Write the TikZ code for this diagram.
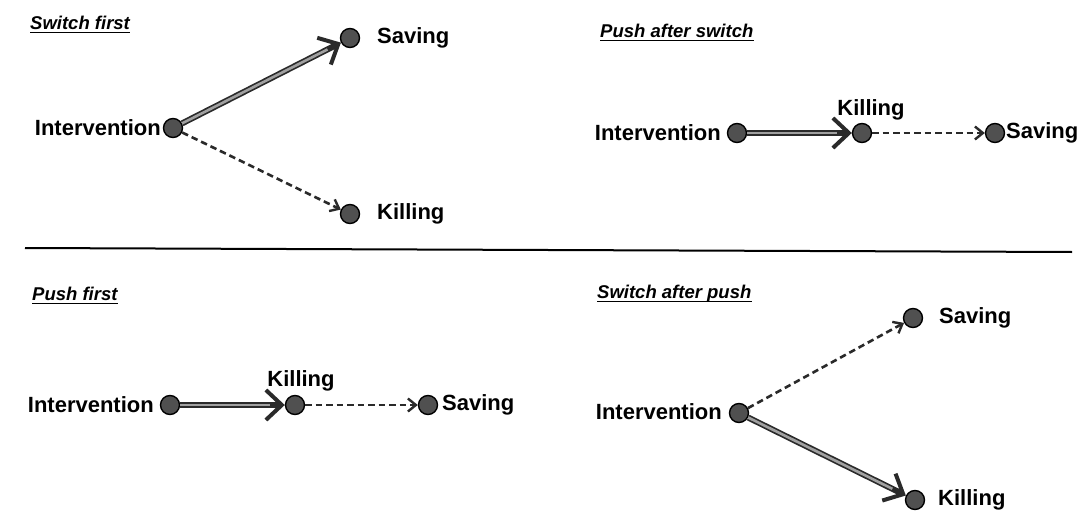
\documentclass[tikz,border=0pt]{standalone}
\usepackage{fontspec}
\setmainfont{Liberation Sans}
\usetikzlibrary{arrows.meta}
\definecolor{dotgray}{HTML}{505050}
\definecolor{linedark}{HTML}{2A2A2A}
\definecolor{lineinner}{HTML}{A0A0A0}
\begin{document}
\begin{tikzpicture}[x=1pt,y=-1pt,
  dot/.style={circle, fill=dotgray, draw=black, line width=1.4pt, minimum size=19pt, inner sep=0pt},
  lbl/.style={font=\bfseries\fontsize{22}{26}\selectfont, inner sep=0pt},
  ttl/.style={font=\bfseries\itshape\fontsize{18.5}{22}\selectfont, inner sep=0pt},
  ulstyle/.style={draw=black, line width=1.3pt},
  solidarr/.style={draw=linedark, line width=6pt,
    -{Straight Barb[length=16pt,width=30pt,line width=4pt]},
    postaction={draw=lineinner, line width=2.6pt, shorten >=15pt, -}},
  dasharr/.style={draw=linedark, line width=2.6pt, dash pattern=on 6.5pt off 4pt,
    -{Straight Barb[length=8pt,width=13pt,line width=2.4pt]}},
  sepline/.style={draw=black, line width=2pt}]
\useasboundingbox (0,0) rectangle (1090,511);

% titles
\node[ttl, anchor=west] (t1) at (30,23) {Switch first};
\node[ttl, anchor=west] (t2) at (600,31) {Push after switch};
\node[ttl, anchor=west] (t3) at (32,294) {Push first};
\node[ttl, anchor=west] (t4) at (597,294) {Switch after push};
\foreach \t in {t1,t2,t3,t4}{
  \draw[ulstyle] ([yshift=-3pt]\t.base west) -- ([yshift=-3pt]\t.base east);
}

% separator
\coordinate (sepL) at (25,248);
\coordinate (sepR) at (1072,252);
\draw[sepline] (sepL) -- (sepR);

% ---------- Switch first ----------
\node[dot] (I1) at (173,128) {};
\node[dot] (S1) at (350,38) {};
\node[dot] (K1) at (350,214) {};
\node[lbl, anchor=east] (I1l) at (161,128) {Intervention};
\node[lbl, anchor=west] (S1l) at (377,38) {Saving};
\node[lbl, anchor=west] (K1l) at (377,214) {Killing};
\draw[solidarr] (I1) -- (S1);
\draw[dasharr] (I1) -- (K1);

% ---------- Push after switch ----------
\node[dot] (I2) at (737,133) {};
\node[dot] (K2) at (862,133) {};
\node[dot] (S2) at (995,133) {};
\node[lbl, anchor=east] (I2l) at (721,133) {Intervention};
\node[lbl] (K2l) at (871,110) {Killing};
\node[lbl, anchor=west] (S2l) at (1006,133) {Saving};
\draw[solidarr] (I2) -- (K2);
\draw[dasharr] (K2) -- (S2);

% ---------- Push first ----------
\node[dot] (I3) at (170,405) {};
\node[dot] (K3) at (295,405) {};
\node[dot] (S3) at (428,405) {};
\node[lbl, anchor=east] (I3l) at (154,405) {Intervention};
\node[lbl] (K3l) at (301,381) {Killing};
\node[lbl, anchor=west] (S3l) at (442,405) {Saving};
\draw[solidarr] (I3) -- (K3);
\draw[dasharr] (K3) -- (S3);

% ---------- Switch after push ----------
\node[dot] (I4) at (739,413) {};
\node[dot] (S4) at (913,318) {};
\node[dot] (K4) at (915,500) {};
\node[lbl, anchor=east] (I4l) at (722,412) {Intervention};
\node[lbl, anchor=west] (S4l) at (939,318) {Saving};
\node[lbl, anchor=west] (K4l) at (938,500) {Killing};
\draw[dasharr] (I4) -- (S4);
\draw[solidarr] (I4) -- (K4);
\end{tikzpicture}
\end{document}
